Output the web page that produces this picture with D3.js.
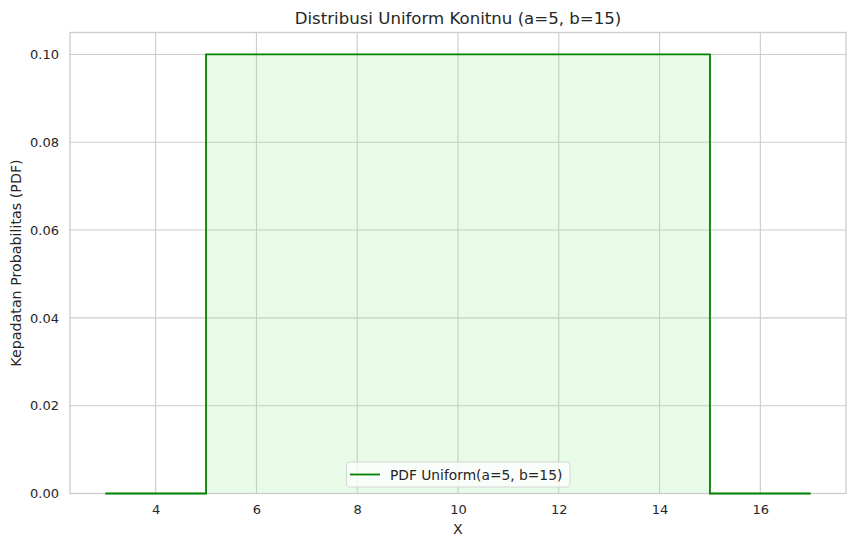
<!DOCTYPE html>
<html>
<head>
<meta charset="utf-8">
<script src="https://cdn.jsdelivr.net/npm/d3@7"></script>
<style>
  html, body { margin: 0; padding: 0; background: #ffffff; }
  svg { display: block; font-family: "DejaVu Sans", sans-serif; }
</style>
</head>
<body>
<svg id="chart" width="855" height="547"></svg>
<script>
// ---- data ----
const pdfX = [3, 5, 5, 15, 15, 17];
const pdfY = [0, 0, 0.1, 0.1, 0, 0];
const xTicks = [4, 6, 8, 10, 12, 14, 16];
const yTicks = [0.00, 0.02, 0.04, 0.06, 0.08, 0.10];
const titleText = "Distribusi Uniform Konitnu (a=5, b=15)";
const xLabelText = "X";
const yLabelText = "Kepadatan Probabilitas (PDF)";
const legendText = "PDF Uniform(a=5, b=15)";

// ---- layout ----
const W = 855, H = 547;
const plot = { left: 70, right: 846, top: 32.5, bottom: 493.5 };

const svg = d3.select("#chart");
const x = d3.scaleLinear().domain([2.3, 17.7]).range([plot.left, plot.right]);
const y = d3.scaleLinear().domain([0, 0.105]).range([plot.bottom, plot.top]);

const points = pdfX.map((v, i) => ({ x: v, y: pdfY[i] }));

// grid
const gridColor = "#cccccc";
svg.append("g").selectAll("line").data(xTicks).join("line")
  .attr("x1", d => x(d)).attr("x2", d => x(d))
  .attr("y1", plot.top).attr("y2", plot.bottom)
  .attr("stroke", gridColor).attr("stroke-width", 1.1);
svg.append("g").selectAll("line").data(yTicks).join("line")
  .attr("x1", plot.left).attr("x2", plot.right)
  .attr("y1", d => y(d)).attr("y2", d => y(d))
  .attr("stroke", gridColor).attr("stroke-width", 1.1);

// fill
const area = d3.area().x(d => x(d.x)).y0(y(0)).y1(d => y(d.y));
svg.append("path").datum(points)
  .attr("d", area)
  .attr("fill", "#90ee90").attr("fill-opacity", 0.22);

// spines
svg.append("rect")
  .attr("x", plot.left).attr("y", plot.top)
  .attr("width", plot.right - plot.left).attr("height", plot.bottom - plot.top)
  .attr("fill", "none").attr("stroke", gridColor).attr("stroke-width", 1.3);

// line
const line = d3.line().x(d => x(d.x)).y(d => y(d.y));
svg.append("path").datum(points)
  .attr("d", line)
  .attr("fill", "none").attr("stroke", "#008000").attr("stroke-width", 1.8)
  .attr("stroke-linejoin", "miter");

// axes (using d3 axes, ticks hidden)
const xAxis = svg.append("g")
  .attr("transform", `translate(0,${plot.bottom})`)
  .call(d3.axisBottom(x).tickValues(xTicks).tickFormat(d3.format("d")).tickSize(0).tickPadding(11));
xAxis.select(".domain").remove();
xAxis.selectAll("text").attr("font-size", 13).attr("fill", "#262626")
  .attr("font-family", "DejaVu Sans");

const yAxis = svg.append("g")
  .attr("transform", `translate(${plot.left},0)`)
  .call(d3.axisLeft(y).tickValues(yTicks).tickFormat(d3.format(".2f")).tickSize(0).tickPadding(11));
yAxis.select(".domain").remove();
yAxis.selectAll("text").attr("font-size", 13).attr("fill", "#262626")
  .attr("font-family", "DejaVu Sans");

// title
svg.append("text")
  .attr("x", (plot.left + plot.right) / 2).attr("y", 24)
  .attr("text-anchor", "middle").attr("font-size", 16.6).attr("fill", "#262626")
  .text(titleText);

// axis labels
svg.append("text")
  .attr("x", (plot.left + plot.right) / 2).attr("y", 533.5)
  .attr("text-anchor", "middle").attr("font-size", 14.25).attr("fill", "#262626")
  .text(xLabelText);
svg.append("text")
  .attr("transform", `translate(20.5,${(plot.top + plot.bottom) / 2}) rotate(-90)`)
  .attr("text-anchor", "middle").attr("font-size", 14.25).attr("fill", "#262626")
  .text(yLabelText);

// legend
const lg = svg.append("g");
lg.append("rect")
  .attr("x", 346.5).attr("y", 462).attr("width", 223.5).attr("height", 25)
  .attr("rx", 3).attr("fill", "#ffffff").attr("fill-opacity", 0.8)
  .attr("stroke", "#d6d6d6").attr("stroke-width", 1);
lg.append("line")
  .attr("x1", 350).attr("x2", 380).attr("y1", 474.5).attr("y2", 474.5)
  .attr("stroke", "#008000").attr("stroke-width", 1.8);
lg.append("text")
  .attr("x", 390).attr("y", 479.5)
  .attr("font-size", 13.8).attr("fill", "#262626")
  .text(legendText);
</script>
</body>
</html>
